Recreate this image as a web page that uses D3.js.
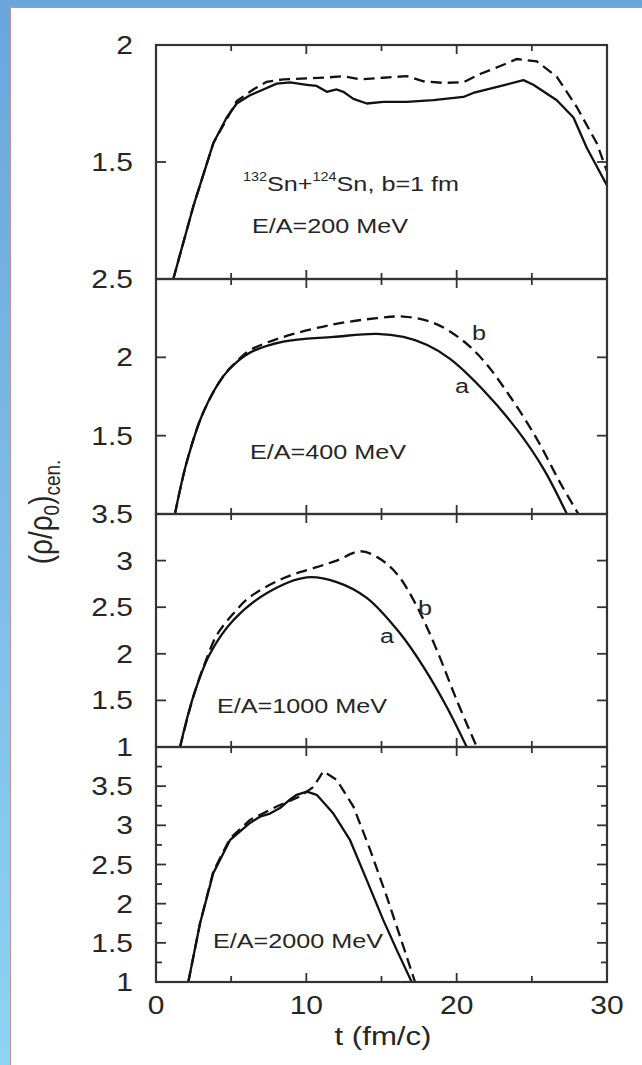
<!DOCTYPE html>
<html>
<head>
<meta charset="utf-8">
<script src="https://cdn.jsdelivr.net/npm/d3@7"></script>
<style>
  html, body { margin: 0; padding: 0; background: #fff; }
  svg { display: block; }
  text { font-family: "Liberation Sans", Arial, Helvetica, sans-serif; fill: #262626; }
</style>
</head>
<body>
<svg id="chart" width="642" height="1065"></svg>
<script>
// ---------------- data ----------------
const panelDomains = [[1, 2], [1, 2.5], [1, 3.5], [1, 4]];
const panelMajorTicks = [[1.5], [1.5, 2], [1.5, 2, 2.5, 3], [1.5, 2, 2.5, 3, 3.5]];
const panelMinorTicks = [[], [], [], [1.25, 1.75, 2.25, 2.75, 3.25, 3.75]];
const panelTickLabels = [[1.5, 2], [1.5, 2, 2.5], [1, 1.5, 2, 2.5, 3, 3.5], [1, 1.5, 2, 2.5, 3, 3.5]];
const xTicksMajor = [10, 20];
const xTicksMinor = [5, 15, 25];
const xTickLabels = [0, 10, 20, 30];
const energyLabels = ["E/A=200 MeV", "E/A=400 MeV", "E/A=1000 MeV", "E/A=2000 MeV"];

// curve a (solid) and curve b (dashed): [t, rho/rho0]
const a200 = [[1.15,1.0],[2.48,1.31],[3.81,1.58],[4.70,1.69],[5.37,1.75],[6.25,1.785],[7.14,1.81],[8.03,1.835],[8.92,1.84],[10.03,1.83],[10.69,1.825],[11.36,1.80],[12.02,1.81],[12.46,1.80],[13.13,1.77],[14.02,1.75],[15.12,1.757],[16.68,1.757],[18.45,1.764],[20.45,1.778],[21.1,1.795],[22.9,1.824],[24.44,1.85],[25.1,1.83],[26.66,1.764],[27.77,1.69],[28.66,1.56],[30.0,1.40]];
const b200 = [[1.15,1.0],[2.48,1.31],[3.81,1.58],[5.37,1.76],[6.47,1.81],[7.36,1.843],[8.47,1.853],[10.03,1.857],[11.36,1.861],[12.46,1.867],[13.57,1.853],[15.12,1.86],[16.68,1.867],[17.79,1.845],[19.12,1.838],[20.45,1.841],[21.56,1.876],[22.9,1.91],[24.0,1.94],[25.33,1.93],[26.66,1.864],[27.99,1.735],[29.32,1.58],[30.0,1.46]];
const a400 = [[1.26,1.0],[2.04,1.33],[3.15,1.65],[4.48,1.88],[5.37,1.97],[6.25,2.03],[8.47,2.10],[11.8,2.13],[14.69,2.15],[16.46,2.13],[18.01,2.08],[19.56,1.99],[21.78,1.79],[24.0,1.54],[25.77,1.29],[27.33,1.0]];
const b400 = [[1.26,1.0],[2.04,1.33],[3.15,1.65],[4.48,1.88],[5.37,1.975],[6.25,2.045],[8.47,2.13],[11.8,2.21],[14.69,2.25],[16.46,2.26],[18.45,2.22],[20.23,2.12],[21.78,1.98],[23.55,1.75],[25.33,1.48],[26.88,1.20],[28.1,1.0]];
const a1000 = [[1.6,1.0],[2.48,1.54],[3.59,2.0],[5.14,2.36],[7.36,2.65],[10.03,2.82],[12.02,2.77],[14.02,2.60],[16.23,2.22],[17.79,1.86],[19.34,1.43],[20.67,1.0]];
const b1000 = [[1.6,1.0],[2.48,1.54],[3.3,1.92],[4.04,2.2],[5.14,2.43],[6.25,2.61],[8.47,2.81],[10.69,2.93],[12.02,3.0],[13.57,3.10],[14.69,3.04],[16.01,2.86],[17.35,2.51],[18.68,2.04],[20.01,1.50],[21.34,1.0]];
const a2000 = [[2.15,1.0],[2.93,1.75],[3.81,2.39],[4.92,2.81],[6.25,3.03],[6.92,3.11],[7.58,3.15],[8.25,3.22],[8.92,3.33],[9.36,3.39],[10.03,3.43],[10.69,3.39],[11.8,3.15],[12.91,2.81],[14.02,2.30],[15.12,1.79],[16.01,1.41],[17.01,1.0]];
const b2000 = [[2.15,1.0],[2.93,1.75],[3.81,2.41],[4.92,2.83],[6.25,3.07],[8.03,3.24],[9.58,3.37],[10.47,3.49],[11.13,3.69],[12.02,3.58],[13.13,3.24],[14.24,2.69],[15.35,2.09],[16.46,1.45],[17.23,1.0]];
const seriesA = [a200, a400, a1000, a2000];
const seriesB = [b200, b400, b1000, b2000];

// ---------------- layout ----------------
const svg = d3.select("#chart");
const W = 642, H = 1065;
const X0 = 156, X1 = 607;
const panelTops = [45, 279, 514, 747];
const panelBots = [279, 514, 747, 982];
const ink = "#333";
const STRETCH = 1.2;

// frame background
const defs = svg.append("defs");
const grad = defs.append("linearGradient").attr("id", "bg").attr("x1", 0).attr("y1", 0).attr("x2", 0).attr("y2", 1);
grad.append("stop").attr("offset", "0%").attr("stop-color", "#6aa5dc");
grad.append("stop").attr("offset", "100%").attr("stop-color", "#8fd2f2");
svg.append("rect").attr("x", 0).attr("y", 0).attr("width", W).attr("height", H).attr("fill", "url(#bg)");
svg.append("rect").attr("x", 10).attr("y", 7).attr("width", W - 10).attr("height", H - 7).attr("fill", "#fff");
svg.append("path").attr("d", `M10.5,${H} V7.5 H${W}`).attr("fill", "none").attr("stroke", "#c9908c").attr("stroke-width", 1);

const x = d3.scaleLinear().domain([0, 30]).range([X0, X1]);

function stretchedText(g, px, py, str, size, anchor) {
  const t = g.append("g").attr("transform", `translate(${px},${py}) scale(${STRETCH},1)`)
    .append("text").attr("x", 0).attr("y", 0)
    .attr("font-size", size).attr("text-anchor", anchor || "start");
  if (str !== null) t.text(str);
  return t;
}

panelDomains.forEach((dom, i) => {
  const top = panelTops[i], bot = panelBots[i];
  const y = d3.scaleLinear().domain(dom).range([bot, top]);
  const g = svg.append("g");

  const cid = "clip" + i;
  defs.append("clipPath").attr("id", cid).append("rect")
    .attr("x", X0).attr("y", top).attr("width", X1 - X0).attr("height", bot - top);

  // curves
  const curveType = (i === 0 || i === 3) ? d3.curveLinear : d3.curveCatmullRom.alpha(0.5);
  const line = d3.line().x(d => x(d[0])).y(d => y(d[1])).curve(curveType);
  g.append("path").datum(seriesA[i]).attr("d", line).attr("clip-path", `url(#${cid})`)
    .attr("fill", "none").attr("stroke", "#111").attr("stroke-width", 2.3).attr("stroke-linejoin", "round");
  g.append("path").datum(seriesB[i]).attr("d", line).attr("clip-path", `url(#${cid})`)
    .attr("fill", "none").attr("stroke", "#111").attr("stroke-width", 2.3)
    .attr("stroke-dasharray", "11,6");

  // y ticks (left & right, inward)
  const yt = [];
  panelMajorTicks[i].forEach(v => yt.push([v, 10]));
  panelMinorTicks[i].forEach(v => yt.push([v, 6]));
  yt.forEach(([v, len]) => {
    const yy = y(v);
    g.append("line").attr("x1", X0).attr("x2", X0 + len).attr("y1", yy).attr("y2", yy).attr("stroke", ink).attr("stroke-width", 1.8);
    g.append("line").attr("x1", X1).attr("x2", X1 - len).attr("y1", yy).attr("y2", yy).attr("stroke", ink).attr("stroke-width", 1.8);
  });

  // x ticks (top & bottom, inward)
  const xt = [];
  xTicksMajor.forEach(v => xt.push([v, 9]));
  xTicksMinor.forEach(v => xt.push([v, 6]));
  xt.forEach(([v, len]) => {
    const xx = x(v);
    g.append("line").attr("x1", xx).attr("x2", xx).attr("y1", top).attr("y2", top + len).attr("stroke", ink).attr("stroke-width", 1.8);
    g.append("line").attr("x1", xx).attr("x2", xx).attr("y1", bot).attr("y2", bot - len).attr("stroke", ink).attr("stroke-width", 1.8);
  });

  // frame
  g.append("rect").attr("x", X0).attr("y", top).attr("width", X1 - X0).attr("height", bot - top)
    .attr("fill", "none").attr("stroke", ink).attr("stroke-width", 2.2);

  // y tick labels
  panelTickLabels[i].forEach(v => {
    stretchedText(svg, 133, y(v) + 9, d3.format("")(v), 25, "end");
  });
});

// x tick labels
xTickLabels.forEach(v => {
  stretchedText(svg, x(v), 1014, String(v), 25, "middle");
});

// x title
stretchedText(svg, 383, 1045, "t (fm/c)", 26, "middle");

// y title (rotated)
const ytl = svg.append("g").attr("transform", `translate(52,512) scale(${STRETCH},1) rotate(-90)`)
  .append("text").attr("font-size", 28).attr("text-anchor", "middle");
ytl.append("tspan").text("(ρ/ρ");
ytl.append("tspan").attr("font-size", 19).attr("dy", 6).text("0");
ytl.append("tspan").attr("dy", -6).text(")");
ytl.append("tspan").attr("font-size", 19).attr("dy", 7).text("cen.");

// annotations
const ann = stretchedText(svg, 243, 191, null, 21, "start");
ann.append("tspan").attr("font-size", 12).attr("dy", -10).text("132");
ann.append("tspan").attr("dy", 10).text("Sn+");
ann.append("tspan").attr("font-size", 12).attr("dy", -10).text("124");
ann.append("tspan").attr("dy", 10).text("Sn, b=1 fm");

const energyPos = [[252, 233], [250, 459], [217, 713], [213, 948]];
energyLabels.forEach((s, i) => stretchedText(svg, energyPos[i][0], energyPos[i][1], s, 21, "start"));

stretchedText(svg, 472, 340, "b", 21, "start");
stretchedText(svg, 455, 393, "a", 21, "start");
stretchedText(svg, 418, 615, "b", 21, "start");
stretchedText(svg, 380, 643, "a", 21, "start");
</script>
</body>
</html>
